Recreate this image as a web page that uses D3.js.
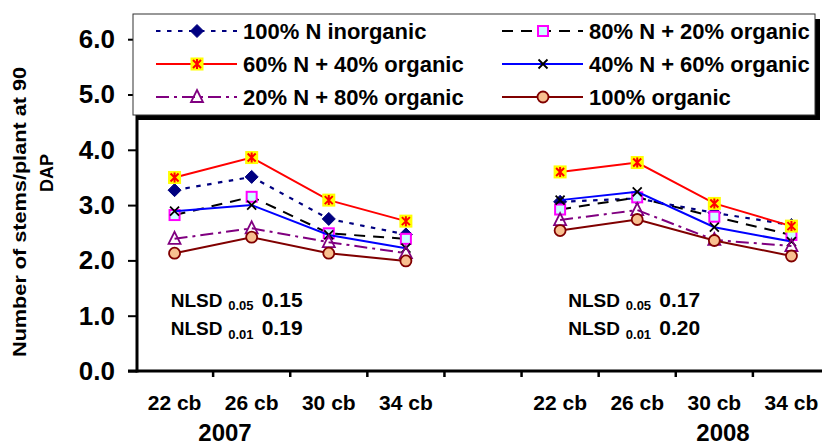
<!DOCTYPE html>
<html>
<head>
<meta charset="utf-8">
<script src="https://cdn.jsdelivr.net/npm/d3@7"></script>
<style>
  html, body { margin: 0; padding: 0; background: #ffffff; }
  svg { display: block; font-family: Arial, "Liberation Sans", sans-serif; }
</style>
</head>
<body>
<svg id="chart" width="822" height="446"></svg>
<script>
// ---------------- data ----------------
const categories = ["22 cb", "26 cb", "30 cb", "34 cb", "", "22 cb", "26 cb", "30 cb", "34 cb"];
const yearLabels = ["2007", "2008"];
const yTicks = [0, 1, 2, 3, 4, 5, 6];

const seriesNames = [
  "100% N inorganic",
  "80% N + 20% organic",
  "60% N + 40% organic",
  "40% N + 60% organic",
  "20% N + 80% organic",
  "100% organic"
];
const inorganic100 = [3.27, 3.51, 2.75, 2.47, null, 3.06, 3.12, 2.86, 2.64];
const n80org20     = [2.82, 3.15, 2.49, 2.39, null, 2.92, 3.14, 2.79, 2.46];
const n60org40     = [3.50, 3.86, 3.09, 2.71, null, 3.60, 3.77, 3.03, 2.62];
const n40org60     = [2.89, 3.00, 2.46, 2.22, null, 3.09, 3.24, 2.60, 2.34];
const n20org80     = [2.39, 2.58, 2.33, 2.13, null, 2.73, 2.91, 2.37, 2.26];
const organic100   = [2.13, 2.42, 2.13, 1.99, null, 2.54, 2.74, 2.36, 2.08];

const nlsd05 = ["0.15", "0.17"];
const nlsd01 = ["0.19", "0.20"];

// ---------------- styles ----------------
const seriesValues = [inorganic100, n80org20, n60org40, n40org60, n20org80, organic100];
const styles = [
  { color: "#000080", dash: "4.5,6.5", width: 2.2, marker: "diamond" },
  { color: "#000000", dash: "11,8",    width: 2,   marker: "square" },
  { color: "#ff0000", dash: null,      width: 2,   marker: "star" },
  { color: "#0000ff", dash: null,      width: 2,   marker: "x" },
  { color: "#800080", dash: "13,5,3,5",width: 2,   marker: "triangle" },
  { color: "#800000", dash: null,      width: 2,   marker: "circle" }
];

const svg = d3.select("#chart");

const x = d3.scaleBand().domain(d3.range(categories.length)).range([136, 830]).padding(0);
const y = d3.scaleLinear().domain([0, 6]).range([371, 39.2]);
const AX = 137;

// ---------------- axes ----------------
const yAxis = svg.append("g")
  .attr("transform", `translate(${AX},0)`)
  .call(d3.axisLeft(y).tickValues(yTicks).tickFormat(d3.format(".1f")).tickSize(9).tickPadding(13));
yAxis.select(".domain").remove();
yAxis.selectAll(".tick line").attr("stroke", "#000").attr("stroke-width", 2);
yAxis.selectAll(".tick text")
  .attr("fill", "#000").style("font-size", "26px").style("font-weight", "bold")
  .style("font-family", "Arial, 'Liberation Sans', sans-serif");

svg.append("line").attr("x1", AX).attr("x2", AX).attr("y1", y(6)).attr("y2", y(0) + 1.5)
  .attr("stroke", "#000").attr("stroke-width", 3);

const xAxis = svg.append("g")
  .attr("transform", `translate(0,${y(0)})`)
  .call(d3.axisBottom(x).tickSize(0).tickPadding(24).tickFormat(i => categories[i]));
xAxis.select(".domain").remove();
xAxis.selectAll(".tick text")
  .attr("fill", "#000").style("font-size", "21px").style("font-weight", "bold")
  .style("font-family", "Arial, 'Liberation Sans', sans-serif");

// tick marks at category boundaries
svg.append("g").selectAll("line")
  .data(d3.range(1, categories.length))
  .join("line")
  .attr("x1", d => x(d)).attr("x2", d => x(d))
  .attr("y1", y(0)).attr("y2", y(0) + 6)
  .attr("stroke", "#000").attr("stroke-width", 2.5);

svg.append("line").attr("x1", 128).attr("x2", 830).attr("y1", y(0)).attr("y2", y(0))
  .attr("stroke", "#000").attr("stroke-width", 3);

// year labels
const yearX = [225, 723];
svg.append("g").selectAll("text").data(yearLabels).join("text")
  .attr("x", (d, i) => yearX[i]).attr("y", 441)
  .attr("text-anchor", "middle")
  .style("font-size", "24px").style("font-weight", "bold").text(d => d);

// y-axis title
const title = svg.append("g");
title.append("text")
  .attr("transform", "translate(20,212) rotate(-90)")
  .attr("text-anchor", "middle").attr("dominant-baseline", "central")
  .attr("textLength", 290).attr("lengthAdjust", "spacingAndGlyphs")
  .style("font-size", "18px").style("font-weight", "bold")
  .text("Number of stems/plant at 90");
title.append("text")
  .attr("transform", "translate(47,173) rotate(-90)")
  .attr("text-anchor", "middle").attr("dominant-baseline", "central")
  .attr("textLength", 38).attr("lengthAdjust", "spacingAndGlyphs")
  .style("font-size", "18px").style("font-weight", "bold")
  .text("DAP");

// NLSD annotations
const nlsdX = [170.7, 568.3];
const nlsdRows = [{ sub: "0.05", vals: nlsd05, y: 306.5 }, { sub: "0.01", vals: nlsd01, y: 335 }];
nlsdX.forEach((nx, i) => {
  nlsdRows.forEach(r => {
    const t = svg.append("g");
    t.append("text").attr("x", nx).attr("y", r.y)
      .style("font-size", "19px").style("font-weight", "bold").text("NLSD");
    t.append("text").attr("x", nx + 57.5).attr("y", r.y + 3.5)
      .style("font-size", "13px").style("font-weight", "bold").text(r.sub);
    t.append("text").attr("x", nx + 91).attr("y", r.y)
      .style("font-size", "21px").style("font-weight", "bold").text(r.vals[i]);
  });
});

// ---------------- markers ----------------
function drawMarker(g, type, cx, cy) {
  const m = g.append("g").attr("transform", `translate(${cx},${cy})`);
  if (type === "diamond") {
    m.append("path").attr("d", "M0,-6.5L6.5,0L0,6.5L-6.5,0Z").attr("fill", "#000080").attr("stroke", "#000080").attr("stroke-width", 1);
  } else if (type === "square") {
    m.append("rect").attr("x", -5).attr("y", -5).attr("width", 10).attr("height", 10)
      .attr("fill", "#ccffff").attr("stroke", "#ff00ff").attr("stroke-width", 2);
  } else if (type === "star") {
    m.append("rect").attr("x", -6.5).attr("y", -6.5).attr("width", 13).attr("height", 13).attr("fill", "#ffff00");
    m.append("path").attr("d", "M0,-5V5M-4,-4L4,4M-4,4L4,-4").attr("stroke", "#ff0000").attr("stroke-width", 2).attr("fill", "none");
  } else if (type === "x") {
    m.append("path").attr("d", "M-4.5,-4.5L4.5,4.5M-4.5,4.5L4.5,-4.5").attr("stroke", "#000").attr("stroke-width", 1.8).attr("fill", "none");
  } else if (type === "triangle") {
    m.append("path").attr("d", "M0,-7L6,5L-6,5Z").attr("fill", "none").attr("stroke", "#800080").attr("stroke-width", 1.8);
  } else if (type === "circle") {
    m.append("circle").attr("r", 5.5).attr("fill", "#f8c090").attr("stroke", "#800000").attr("stroke-width", 1.8);
  }
}

// ---------------- series ----------------
const line = d3.line()
  .defined(d => d.v !== null)
  .x(d => x(d.i) + x.bandwidth() / 2)
  .y(d => y(d.v));

seriesValues.forEach((vals, s) => {
  const st = styles[s];
  const pts = vals.map((v, i) => ({ i, v }));
  const g = svg.append("g");
  g.append("path").attr("d", line(pts))
    .attr("fill", "none").attr("stroke", st.color).attr("stroke-width", st.width)
    .attr("stroke-dasharray", st.dash);
  pts.filter(d => d.v !== null).forEach(d => drawMarker(g, st.marker, x(d.i) + x.bandwidth() / 2, y(d.v)));
});

// ---------------- legend ----------------
const lg = svg.append("g");
lg.append("rect").attr("x", 138).attr("y", 19).attr("width", 682).attr("height", 101).attr("fill", "#000");
lg.append("rect").attr("x", 133).attr("y", 14).attr("width", 682).attr("height", 101)
  .attr("fill", "#fff").attr("stroke", "#333").attr("stroke-width", 1);

const colX = [156, 502];
const rowY = [31, 64, 97];
seriesNames.forEach((name, s) => {
  const st = styles[s];
  const cx0 = colX[s % 2];
  const cy = rowY[Math.floor(s / 2)];
  lg.append("line").attr("x1", cx0).attr("x2", cx0 + 81).attr("y1", cy).attr("y2", cy)
    .attr("stroke", st.color).attr("stroke-width", st.width).attr("stroke-dasharray", st.dash);
  drawMarker(lg, st.marker, cx0 + 41, cy);
  lg.append("text").attr("x", cx0 + 87).attr("y", cy + 8)
    .style("font-size", "22px").style("font-weight", "bold").text(name);
});
</script>
</body>
</html>
